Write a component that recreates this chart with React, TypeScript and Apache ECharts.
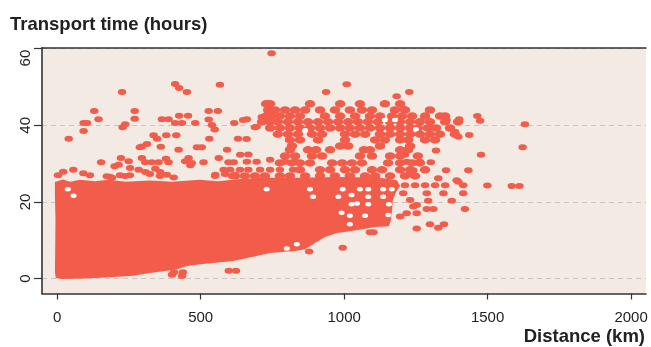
import React, { useEffect, useRef } from "react";
import * as echarts from "echarts";

// Axis ticks
const X_TICKS = [0, 500, 1000, 1500, 2000];
const Y_TICKS = [0, 20, 40, 60];
const X_RANGE = [-53, 2052];
const Y_RANGE = [-3.86, 60.24];

// Outline of the dense core of observations [distance km, hours]
const CORE_OUTLINE: number[][] = [
  [-8, 25.2], [20, 25.9], [45, 25.3], [80, 25.8], [131, 25.4], [180, 25.8], [240, 25.3],
  [323, 25.6], [400, 25.3], [497, 25.8], [560, 25.4], [637, 26.0], [724, 26.3], [846, 26.3],
  [986, 26.5], [1125, 26.3], [1184, 25.7], [1195, 24.2], [1181, 22.6], [1170, 20.5],
  [1167, 17.9], [1163, 15.3], [1156, 13.7], [1108, 13.5], [1073, 13.0], [1020, 12.4],
  [975, 11.9], [933, 10.9], [898, 9.3], [864, 7.7], [829, 7.2], [794, 7.0], [742, 6.7],
  [682, 5.7], [613, 4.6], [543, 4.1], [498, 3.8], [452, 3.3], [421, 2.5], [376, 2.0],
  [323, 1.5], [264, 0.8], [184, 0.4], [97, 0.05], [16, -0.1], [-5, 0.2], [-8, 1.7],
  [-7, 7.5], [-6, 15.3], [-8, 21.8],
];

// Scattered trips, upper-left area
const SPARSE_LEFT: number[][] = [
  [226, 48.7], [411, 50.8], [425, 49.7], [452, 48.7], [567, 50.6],
  [129, 43.7], [144, 41.6], [92, 40.6], [104, 40.6], [92, 38.5], [40, 36.5],
  [270, 43.7], [270, 41.7], [237, 40.3], [228, 39.5],
  [365, 41.6], [388, 41.6], [425, 42.5], [456, 42.5], [411, 40.6], [435, 40.6], [481, 40.6],
  [528, 43.7], [560, 43.7], [528, 41.5], [539, 40.1], [549, 38.9], [617, 40.6],
  [336, 37.4], [348, 36.5], [380, 37.4], [415, 37.4], [530, 36.5], [630, 36.5], [660, 36.4],
  [288, 34.3], [295, 34.5], [313, 35.1], [361, 34.4], [423, 33.6], [487, 34.3], [504, 34.3],
  [592, 33.6], [638, 32.3], [666, 32.4],
  [153, 30.4], [222, 31.5], [249, 30.6],
  [295, 31.5], [307, 30.4], [330, 30.4], [353, 30.4], [379, 31.3], [388, 30.4],
  [458, 31.5], [446, 30.6], [469, 30.2], [464, 29.6], [510, 30.4], [563, 31.5], [597, 30.4], [615, 30.4],
  [661, 30.5], [695, 30.5], [742, 31.0], [794, 30.5], [829, 30.5],
  [200, 29.3], [214, 29.7], [254, 28.9], [284, 28.4], [307, 27.8],
  [342, 28.7], [359, 27.8], [382, 27.1], [406, 26.4],
  [551, 27.1], [580, 28.4], [603, 28.4], [620, 27.1],
  [637, 28.4], [666, 28.4], [707, 28.4], [742, 28.4], [776, 28.4], [822, 28.4],
  [173, 26.7], [191, 26.3],
  [3, 27.0], [21, 27.9], [56, 28.4], [91, 27.5], [114, 27.0], [184, 26.6], [219, 27.0],
  [236, 26.8], [253, 27.0], [323, 27.3], [358, 26.8], [550, 26.8], [585, 27.3], [609, 26.8],
  [648, 41.4], [661, 41.6], [713, 42.2], [689, 39.5], [695, 39.6],
];

// Cluster of long trips around 40 hours
const CLUSTER_40H: number[][] = [
  [728, 45.6], [742, 45.6], [881, 45.6], [986, 45.6], [1055, 45.6], [1142, 45.6], [1195, 45.6],
  [735, 44.0], [759, 44.0], [794, 44.0], [829, 44.0], [864, 44.0], [916, 44.0], [968, 44.0],
  [1020, 44.0], [1062, 44.0], [1097, 44.0], [1177, 44.0], [1212, 44.0], [1299, 44.0],
  [728, 42.4], [748, 42.4], [776, 42.4], [811, 42.4], [846, 42.4], [933, 42.4], [986, 42.4],
  [1038, 42.4], [1090, 42.4], [1125, 42.4], [1167, 42.4], [1202, 42.4], [1237, 42.4],
  [1282, 42.4], [1334, 42.4], [1352, 42.4],
  [714, 40.9], [742, 40.9], [769, 40.9], [804, 40.9], [839, 40.9], [874, 40.9], [909, 40.9],
  [944, 40.9], [979, 40.9], [1014, 40.9], [1048, 40.9], [1083, 40.9], [1118, 40.9],
  [1160, 40.9], [1195, 40.9], [1230, 40.9], [1264, 40.9], [1299, 40.9], [1352, 40.9], [1397, 40.9],
  [742, 39.3], [776, 39.3], [811, 39.3], [846, 39.3], [881, 39.3], [916, 39.3], [951, 39.3],
  [986, 39.3], [1020, 39.3], [1055, 39.3], [1090, 39.3], [1125, 39.3], [1160, 39.3],
  [1195, 39.3], [1230, 39.3], [1257, 39.3], [1292, 39.3], [1320, 39.3], [1369, 39.3],
  [769, 37.7], [804, 37.7], [839, 37.7], [888, 37.7], [923, 37.7], [1003, 37.7], [1038, 37.7],
  [1073, 37.7], [1125, 37.7], [1160, 37.7], [1195, 37.7], [1230, 37.7], [1264, 37.7],
  [1299, 37.7], [1334, 37.7], [1386, 37.7],
  [811, 36.2], [846, 36.2], [909, 36.2], [1003, 36.2], [1108, 36.2], [1142, 36.2],
  [1195, 36.2], [1223, 36.2], [1282, 36.2], [1317, 36.2],
  [818, 34.6], [986, 34.6], [1014, 34.6], [1125, 34.6], [1230, 34.6],
];

// Network of trips between the cluster and the core
const BRIDGE: number[][] = [
  [811, 33.6], [874, 33.6], [902, 33.6], [951, 33.6], [1069, 33.6], [1090, 33.6], [1195, 33.6], [1223, 33.6],
  [794, 32.0], [829, 32.0], [888, 32.0], [923, 32.0], [1055, 32.0], [1097, 32.0], [1160, 32.0], [1195, 32.0], [1257, 32.0],
  [776, 30.2], [818, 30.2], [846, 30.2], [881, 30.2], [958, 30.2], [993, 30.2], [1027, 30.2],
  [1062, 30.2], [1153, 30.2], [1195, 30.2], [1237, 30.2], [1264, 30.2],
  [846, 28.4], [916, 28.4], [951, 28.4], [1003, 28.4], [1038, 28.4], [1097, 28.4], [1132, 28.4],
  [1195, 28.4], [1230, 28.4], [1282, 28.4],
  [620, 26.8], [654, 26.8], [689, 26.8], [724, 26.8], [776, 26.8], [811, 26.8], [864, 26.8],
  [916, 26.8], [968, 26.8], [1020, 26.8], [1073, 26.8], [1108, 26.8], [1160, 26.8], [1212, 26.8], [1247, 26.8],
];

// Scattered trips, right-hand area
const SPARSE_RIGHT: number[][] = [
  [747, 58.8], [1009, 50.7], [937, 48.7], [1183, 47.6], [1227, 48.7], [1206, 44.4],
  [1346, 42.2], [1357, 41.4], [1401, 41.6], [1464, 42.4], [1474, 41.2],
  [1369, 39.2], [1386, 38.3], [1398, 37.0], [1436, 37.5], [1630, 40.3], [1622, 34.3], [1477, 32.3], [1320, 33.4],
  [1212, 32.3], [1264, 30.5], [1302, 30.4], [1218, 30.5], [1241, 28.3], [1355, 28.3], [1433, 28.3],
  [1328, 26.2], [1230, 27.8], [1392, 25.7],
  [1212, 24.4], [1247, 24.4], [1282, 24.4], [1317, 24.4], [1352, 24.4], [1398, 25.3], [1415, 24.4],
  [1499, 24.3], [1584, 24.2], [1611, 24.2],
  [1288, 22.3], [1346, 22.3], [1415, 22.3], [1293, 20.3], [1375, 20.3], [1253, 19.2], [1230, 20.5],
  [1288, 18.2], [1311, 18.2], [1421, 18.2], [1253, 17.1],
  [1299, 14.2], [1328, 13.3], [1348, 14.2], [1253, 13.1],
  [1090, 12.1], [1102, 12.1], [995, 8.1], [878, 7.1],
  [1206, 22.3], [1241, 18.8], [1218, 17.1], [1195, 16.2],
];

// Short trips just below the core
const LOW_EDGE: number[][] = [
  [400, 1.0], [407, 1.7], [435, 0.7], [438, 1.7], [598, 2.1], [623, 2.1],
];

// Gaps inside the core
const GAPS: number[][] = [
  [37, 23.3], [57, 21.6], [730, 23.3], [881, 23.3], [892, 21.4], [980, 21.4], [995, 23.3],
  [1026, 21.8], [1055, 23.3], [1084, 23.3], [1136, 23.3], [1166, 23.3], [1084, 21.4], [1136, 21.4],
  [1026, 19.4], [1045, 19.6], [1084, 19.4], [1156, 19.4], [991, 17.2], [1020, 16.4], [1073, 16.4],
  [1154, 16.6], [1020, 14.2], [835, 9.0], [800, 7.9], [864, 38.7], [1142, 41.4], [1177, 41.4], [1250, 39.0],
];

const RED = "#f25c4a";
const BG = "#f3eae3";
const INK = "#222222";
const FONT = '"Liberation Sans", Arial, Helvetica, sans-serif';
const ELLIPSE = "path://M0,5 A5,5 0 1,1 10,5 A5,5 0 1,1 0,5 Z";

export default function App() {
  const ref = useRef<HTMLDivElement>(null);

  useEffect(() => {
    if (!ref.current) return;
    const chart = echarts.init(ref.current, null, { renderer: "svg" });
    const sparse = [...SPARSE_LEFT, ...SPARSE_RIGHT, ...LOW_EDGE];
    const dense = [...CLUSTER_40H, ...BRIDGE];

    chart.setOption({
      animation: false,
      grid: {
        left: 42,
        right: 5,
        top: 47.7,
        bottom: 53.5,
        show: true,
        backgroundColor: BG,
        borderWidth: 0,
        containLabel: false,
      },
      graphic: [
        {
          type: "text",
          left: 10,
          top: 14,
          style: {
            text: "Transport time (hours)",
            font: `bold 18.5px ${FONT}`,
            fill: INK,
          },
        },
        {
          type: "text",
          right: 6,
          top: 326.3,
          style: {
            text: "Distance (km)",
            font: `bold 18.5px ${FONT}`,
            fill: INK,
          },
        },
      ],
      xAxis: [
        {
          type: "value",
          min: X_RANGE[0],
          max: X_RANGE[1],
          axisLine: { show: true, onZero: false, lineStyle: { color: "#333", width: 1.6 } },
          axisTick: { show: true, length: 6, customValues: X_TICKS, lineStyle: { color: "#333", width: 1.2 } },
          axisLabel: {
            customValues: X_TICKS,
            margin: 15.5,
            fontSize: 15,
            fontFamily: FONT,
            color: INK,
            formatter: (v: number) => String(v),
          },
          splitLine: { show: false },
        },
        {
          type: "value",
          position: "top",
          min: X_RANGE[0],
          max: X_RANGE[1],
          axisLine: { show: true, onZero: false, lineStyle: { color: "#333", width: 1.5 } },
          axisTick: { show: false },
          axisLabel: { show: false },
          splitLine: { show: false },
        },
      ],
      yAxis: {
        type: "value",
        min: Y_RANGE[0],
        max: Y_RANGE[1],
        axisLine: { show: true, onZero: false, lineStyle: { color: "#333", width: 1.6 } },
        axisTick: { show: true, length: 8, customValues: Y_TICKS, lineStyle: { color: "#333", width: 1.2 } },
        axisLabel: {
          customValues: Y_TICKS,
          rotate: 90,
          margin: 10,
          fontSize: 15,
          fontFamily: FONT,
          color: INK,
          formatter: (v: number) => (v === Y_TICKS[Y_TICKS.length - 1] ? `{top|${v}}` : String(v)),
          rich: {
            top: { fontSize: 15, fontFamily: FONT, color: INK, padding: [0, 19, 0, 0] },
          },
        },
        splitLine: { show: true, lineStyle: { color: "#c6c6c6", width: 1, type: [5, 4] } },
      },
      series: [
        {
          type: "custom",
          coordinateSystem: "cartesian2d",
          silent: true,
          z: 2,
          data: [[0, 0]],
          renderItem: (_params: any, api: any) => ({
            type: "polygon",
            shape: { points: CORE_OUTLINE.map((p) => api.coord(p)) },
            style: { fill: RED },
          }),
        },
        {
          type: "scatter",
          silent: true,
          z: 3,
          symbol: ELLIPSE,
          symbolSize: [8.5, 6],
          itemStyle: { color: RED, opacity: 1 },
          data: sparse,
        },
        {
          type: "scatter",
          silent: true,
          z: 3,
          symbol: ELLIPSE,
          symbolSize: [10.5, 7.5],
          itemStyle: { color: RED, opacity: 1 },
          data: dense,
        },
        {
          type: "scatter",
          silent: true,
          z: 4,
          symbol: ELLIPSE,
          symbolSize: [6, 4.5],
          itemStyle: { color: "#ffffff", opacity: 1 },
          data: GAPS,
        },
      ],
    });

    return () => chart.dispose();
  }, []);

  return (
    <div
      ref={ref}
      style={{ position: "fixed", left: 0, top: 0, width: 651, height: 347 }}
    />
  );
}
